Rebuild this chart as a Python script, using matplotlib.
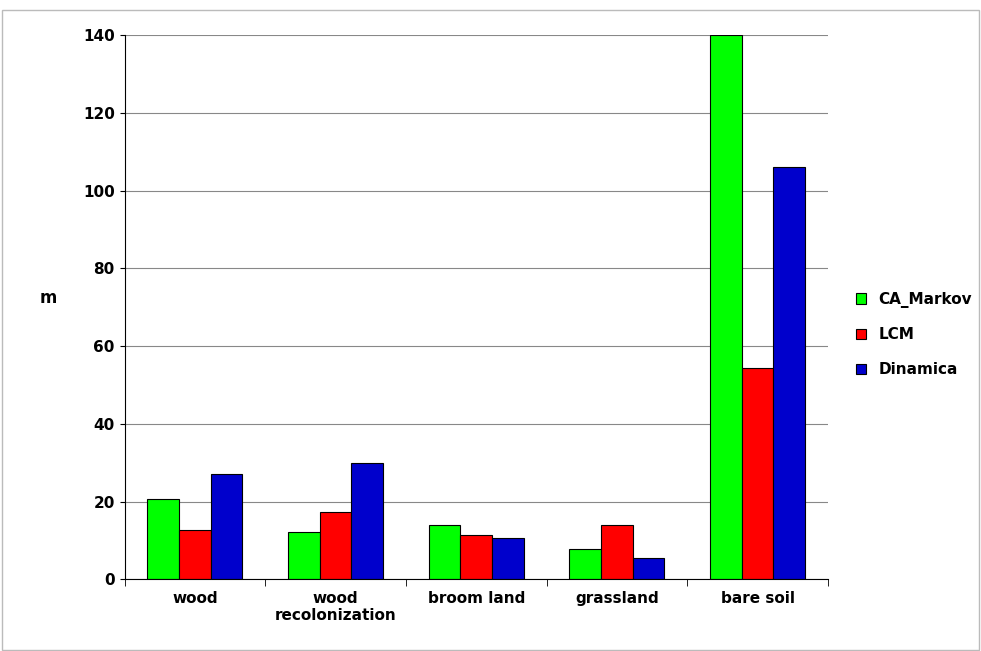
import matplotlib.pyplot as plt
import numpy as np

categorias = ['wood', 'wood\nrecolonization', 'broom land', 'grassland', 'bare soil']
ca_markov = [20.8, 12.1, 14.1, 7.7, 140]
lcm = [12.7, 17.3, 11.5, 13.9, 54.3]
dinamica = [27.1, 29.9, 10.6, 5.5, 106]

fig = plt.figure(figsize=(9.81, 6.51), dpi=100)
ax = fig.add_axes([0.127, 0.11, 0.717, 0.836])
fig.patches.append(plt.Rectangle((0.002, 0.002), 0.996, 0.983, transform=fig.transFigure,
                                 fill=False, edgecolor='#bbbbbb', linewidth=1))

x = np.arange(len(categorias))
w = 0.225
ax.bar(x - w, ca_markov, w, color='#00ff00', edgecolor='black', linewidth=0.8, label='CA_Markov')
ax.bar(x, lcm, w, color='#ff0000', edgecolor='black', linewidth=0.8, label='LCM')
ax.bar(x + w, dinamica, w, color='#0000cc', edgecolor='black', linewidth=0.8, label='Dinamica')

ax.set_xlim(-0.5, 4.5)
ax.set_ylim(0, 140)
ax.set_yticks(range(0, 141, 20))
ax.yaxis.grid(True, color='#888888', linewidth=0.8)
ax.set_axisbelow(True)
for s in ['top', 'right']:
    ax.spines[s].set_visible(False)
ax.set_xticks(x)
ax.set_xticks(np.arange(-0.5, 4.6, 1), minor=True)
ax.set_xticklabels(categorias, fontsize=11, fontweight='bold')
ax.tick_params(axis='y', labelsize=11, direction='out')
for t in ax.get_yticklabels():
    t.set_fontweight('bold')
ax.tick_params(axis='x', which='major', length=0, pad=8)
ax.tick_params(axis='x', which='minor', length=5)
ax.set_ylabel('m', fontsize=12, fontweight='bold', rotation=0, labelpad=25)

ax.legend(loc='center left', bbox_to_anchor=(1.02, 0.45), frameon=False,
          prop={'weight': 'bold', 'size': 11}, handlelength=0.7, handleheight=0.7, labelspacing=1.3)

plt.savefig('out.png')
